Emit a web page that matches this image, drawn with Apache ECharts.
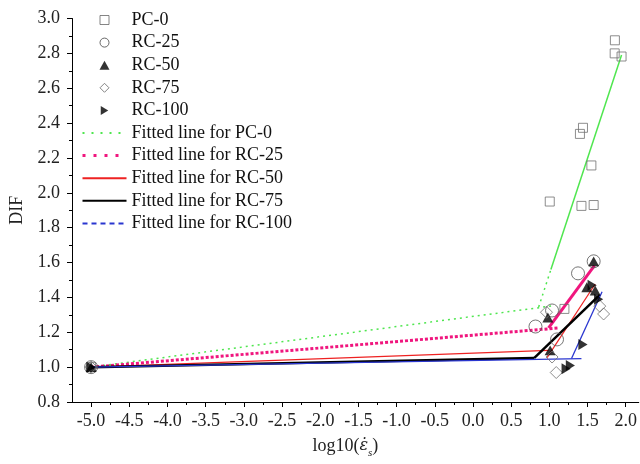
<!DOCTYPE html>
<html><head><meta charset="utf-8">
<script src="https://cdn.jsdelivr.net/npm/echarts@6/dist/echarts.min.js"></script>
<style>html,body{margin:0;padding:0;background:#fff}#c{width:640px;height:464px}</style>
</head><body><div id="c"></div>
<script>
// ---- tick values ----
const xMajorTicks = [-5.0,-4.5,-4.0,-3.5,-3.0,-2.5,-2.0,-1.5,-1.0,-0.5,0.0,0.5,1.0,1.5,2.0];
const xMinorTicks = [-4.75,-4.25,-3.75,-3.25,-2.75,-2.25,-1.75,-1.25,-0.75,-0.25,0.25,0.75,1.25,1.75];

// ---- measured points [log10(strain rate), DIF] ----
const pc0Points  = [[-5,1.0],[1.005,1.95],[1.42,1.925],[1.58,1.93],[1.55,2.157],[1.40,2.338],[1.44,2.373],[1.855,2.80],[1.858,2.875],[1.945,2.782],[1.197,1.334]];
const rc25Points = [[-5,1.0],[0.818,1.233],[1.035,1.325],[1.10,1.159],[1.375,1.538],[1.58,1.607]];
const rc50Points = [[-5,1.0],[1.58,1.607],[0.98,1.285],[1.01,1.096],[1.49,1.458],[1.60,1.44]];
const rc75Points = [[-5,1.0],[0.962,1.315],[1.035,1.058],[1.09,0.969],[1.66,1.35],[1.71,1.305]];
const rc100Points= [[-5,1.0],[1.56,1.47],[1.645,1.39],[1.44,1.13],[1.275,1.01],[1.22,0.991]];

// ---- fitted (bilinear) lines ----
const fitPC0Low        = [[-5,1.0],[1.05,1.352]];
const fitPC0SteepDot   = [[0.86,1.345],[1.02,1.56]];
const fitPC0SteepSolid = [[1.02,1.56],[1.945,2.79]];
const fitRC25Low   = [[-5,1.0],[1.11,1.224]];
const fitRC25Steep = [[0.99,1.225],[1.59,1.582]];
const fitRC50Low   = [[-5,1.0],[0.99,1.096]];
const fitRC50Steep = [[0.97,1.055],[1.60,1.477]];
const fitRC75Low   = [[-5,1.0],[0.8,1.052]];
const fitRC75Steep = [[0.8,1.052],[1.66,1.415]];
const fitRC100Low  = [[-5,1.0],[1.42,1.049]];
const fitRC100Steep= [[1.29,1.049],[1.69,1.433]];

const FONT = 'Liberation Serif, DejaVu Serif, serif';
const GREEN = '#4fe64f', PINK = '#f0167e', RED = '#ee2222', BLACK = '#000000', BLUE = '#2a36d0';
const SQUARE   = 'path://M0,0h10v10h-10z';
const TRIANGLE = 'path://M5,0L10,9L0,9Z';
const DIAMOND  = 'path://M5,0L10,5L5,10L0,5Z';
const RTRI     = 'path://M0,0L10,6L0,12Z';

function lineS(name, data, color, width, type, z) {
  return {name, type:'line', data, symbol:'none', showSymbol:false, silent:true, z: z||2,
    lineStyle:{color, width, type}, itemStyle:{color}, animation:false};
}
function scat(name, data, symbol, size, style) {
  return {name, type:'scatter', data, symbol, symbolSize:size, symbolKeepAspect:true, itemStyle:style, silent:true, z:5, animation:false};
}
const hollow = c => ({color:'rgba(255,255,255,0)', borderColor:c, borderWidth:1});
const noSym = {color:'rgba(0,0,0,0)', borderColor:'rgba(0,0,0,0)', borderWidth:0};

const chart = echarts.init(document.getElementById('c'), null, {renderer:'canvas'});
chart.setOption({
  animation:false,
  backgroundColor:'#ffffff',
  grid:{left:72, right:0, top:18.5, bottom:60.5, containLabel:false},
  legend:{
    orient:'vertical', left:76, top:6, itemWidth:44, itemHeight:9, itemGap:4.6,
    selectedMode:false, symbolKeepAspect:true,
    textStyle:{fontFamily:FONT, fontSize:18, color:'#111'},
    data:[
      {name:'PC-0', icon:SQUARE, itemStyle:{color:'#fff', borderColor:'#666', borderWidth:1}},
      {name:'RC-25', itemStyle:{color:'#fff', borderColor:'#444', borderWidth:1}},
      {name:'RC-50', icon:TRIANGLE},
      {name:'RC-75', icon:DIAMOND, itemStyle:{color:'#fff', borderColor:'#666', borderWidth:1}},
      {name:'RC-100', icon:RTRI},
      {name:'Fitted line for PC-0', itemStyle:noSym, lineStyle:{type:[2,7], width:2}},
      {name:'Fitted line for RC-25', itemStyle:noSym, lineStyle:{type:[3,8], width:3}},
      {name:'Fitted line for RC-50', itemStyle:noSym},
      {name:'Fitted line for RC-75', itemStyle:noSym},
      {name:'Fitted line for RC-100', itemStyle:noSym, lineStyle:{type:[5,4]}}
    ]
  },
  xAxis:[{
    type:'value', min:-5.25, max:2.17, position:'bottom',
    axisLine:{show:true, onZero:false, lineStyle:{color:'#000', width:1}},
    axisTick:{show:true, customValues:xMajorTicks, length:5, lineStyle:{color:'#000'}},
    axisLabel:{customValues:xMajorTicks, formatter:v=>v.toFixed(1), margin:10, fontFamily:FONT, fontSize:18, color:'#222'},
    splitLine:{show:false},
    name:'{n|log10(}{e|ε\u0307}{s|s}{n|)}', nameLocation:'middle', nameGap:31,
    nameTextStyle:{fontFamily:FONT, fontSize:18, color:'#222', padding:[0,20,0,0],
      rich:{
        n:{fontFamily:FONT, fontSize:18, color:'#222', lineHeight:26},
        e:{fontFamily:'DejaVu Serif', fontSize:16, fontStyle:'italic', color:'#222', lineHeight:26},
        s:{fontFamily:FONT, fontSize:11, fontStyle:'italic', color:'#222', lineHeight:26, verticalAlign:'bottom'}
      }}
  },{
    type:'value', min:-5.25, max:2.17, position:'bottom',
    axisLine:{show:false, onZero:false},
    axisTick:{show:true, customValues:xMinorTicks, length:3, lineStyle:{color:'#000'}},
    axisLabel:{show:false}, splitLine:{show:false}
  }],
  yAxis:{
    type:'value', min:0.8, max:3.0, interval:0.2,
    axisLine:{show:true, onZero:false, lineStyle:{color:'#000', width:1}},
    axisTick:{show:true, length:5, lineStyle:{color:'#000'}},
    minorTick:{show:true, splitNumber:2, length:3, lineStyle:{color:'#000'}},
    axisLabel:{formatter:v=>v.toFixed(1), margin:12, fontFamily:FONT, fontSize:18, color:'#222'},
    splitLine:{show:false},
    name:'DIF', nameLocation:'middle', nameGap:46, nameRotate:90,
    nameTextStyle:{fontFamily:FONT, fontSize:18, color:'#222'}
  },
  series:[
    lineS('Fitted line for PC-0', fitPC0Low, GREEN, 1.5, [2,4]),
    lineS('Fitted line for PC-0', fitPC0SteepDot, GREEN, 1.5, [2,4]),
    lineS('Fitted line for PC-0', fitPC0SteepSolid, GREEN, 1.5, 'solid'),
    lineS('Fitted line for RC-25', fitRC25Low, PINK, 3, [3,2]),
    lineS('Fitted line for RC-25', fitRC25Steep, PINK, 3, 'solid'),
    lineS('Fitted line for RC-50', fitRC50Low, RED, 1.2, 'solid'),
    lineS('Fitted line for RC-50', fitRC50Steep, RED, 1.2, 'solid'),
    lineS('Fitted line for RC-75', fitRC75Low, BLACK, 2.5, 'solid'),
    lineS('Fitted line for RC-75', fitRC75Steep, BLACK, 2.5, 'solid'),
    lineS('Fitted line for RC-100', fitRC100Low, BLUE, 1.3, 'solid'),
    lineS('Fitted line for RC-100', fitRC100Steep, BLUE, 1.3, 'solid'),
    scat('PC-0', pc0Points, SQUARE, 9, hollow('#707070')),
    scat('RC-25', rc25Points, 'circle', 13, hollow('#555555')),
    scat('RC-50', rc50Points, TRIANGLE, 11, {color:'#000'}),
    scat('RC-75', rc75Points, DIAMOND, 12, hollow('#707070')),
    scat('RC-100', rc100Points, RTRI, 11, {color:'#000'})
  ]
});
</script></body></html>
